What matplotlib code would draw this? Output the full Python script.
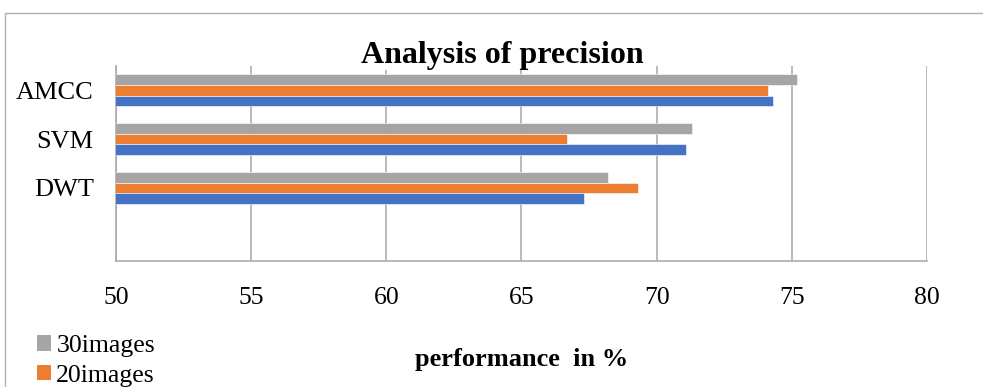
import matplotlib
matplotlib.use("Agg")
import matplotlib.pyplot as plt
from matplotlib.patches import Patch, Rectangle
import numpy as np

plt.rcParams['font.family'] = ['Liberation Serif', 'DejaVu Serif']

categories = ["AMCC", "SVM", "DWT", ""]
vals_10 = [74.3, 71.1, 67.3]
vals_20 = [74.1, 66.7, 69.3]
vals_30 = [75.2, 71.3, 68.2]
colors = {"10images": "#4472C4", "20images": "#ED7D31", "30images": "#A5A5A5"}
xticks = [50, 55, 60, 65, 70, 75, 80]
legend_names = ["30images", "20images"]

fig = plt.figure(figsize=(9.83, 3.87), dpi=100)
ax = fig.add_axes([116/983, 1-261/387, (927-116)/983, (261-66)/387])

h = 0.22
y = np.arange(3)
series = [("30images", vals_30, -h), ("20images", vals_20, 0.0), ("10images", vals_10, h)]
for name, vals, off in series:
    ax.barh(y + off, vals, height=h, color=colors[name], edgecolor="#ffffff",
            linewidth=0.4, zorder=3)

ax.set_xlim(50, 80)
ax.set_ylim(3.5, -0.5)
ax.set_yticks(np.arange(4))
ax.set_yticklabels(categories)
ax.set_xticks(xticks)
ax.set_xticklabels([str(t) for t in xticks])
ax.tick_params(axis='x', length=0, pad=19, labelsize=18.5)
ax.tick_params(axis='y', length=0, pad=16, labelsize=19)
ax.grid(axis='x', color="#a6a6a6", linewidth=1.1, zorder=0)
for s in ["top", "right"]:
    ax.spines[s].set_visible(False)
for s in ["left", "bottom"]:
    ax.spines[s].set_color("#a6a6a6")
    ax.spines[s].set_linewidth(1.1)

ax.set_xlabel("performance  in %", fontsize=19, fontweight='bold', labelpad=28)

fig.text(502/983, 1-63/387, "Analysis of precision", fontsize=23, fontweight='bold',
         ha='center', va='baseline',
         bbox=dict(facecolor='white', edgecolor='none', pad=0))

handles = [Patch(facecolor=colors[n], edgecolor='none') for n in legend_names]
fig.legend(handles, legend_names, loc='upper left',
           bbox_to_anchor=(37/983, 1-335/387), frameon=False, fontsize=18.5,
           handlelength=0.55, handleheight=0.55, handletextpad=0.2,
           labelspacing=0.3, borderpad=0, borderaxespad=0)

# outer chart border
fig.patches.append(Rectangle((5/983, -0.1), 1.2, 1-13/387+0.1, transform=fig.transFigure,
                             fill=False, edgecolor="#b0b0b0", linewidth=1.0))

fig.savefig("out.png", dpi=100)
